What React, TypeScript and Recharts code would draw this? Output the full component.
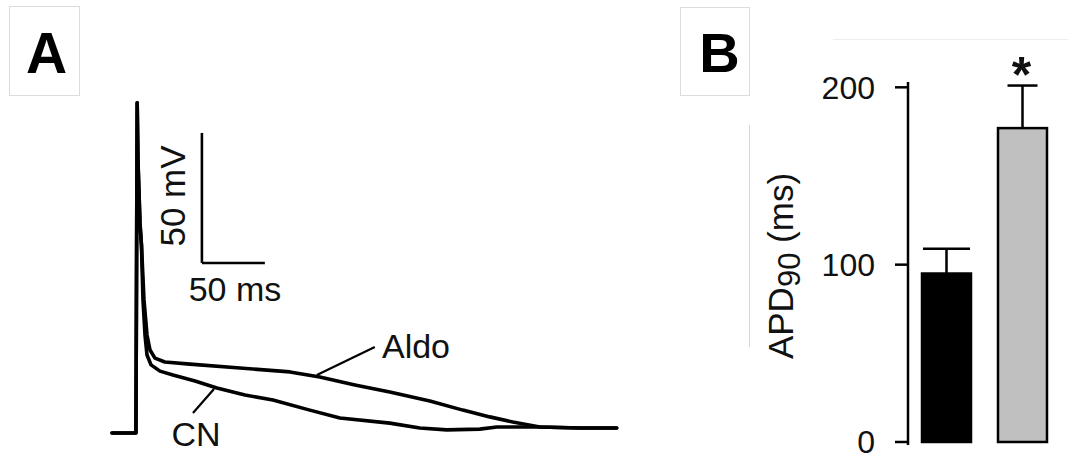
import React from 'react';
import { LineChart, Line, XAxis, YAxis, ReferenceLine, BarChart, Bar } from 'recharts';

// ---------- Panel A: action potential traces (time in ms, voltage in mV) ----------
const ALDO_T = [0, 18, 19, 20, 20.6, 22.2, 23.4, 25.4, 27.8, 30.2, 34.1, 42, 61.9, 101.6, 141.3, 165, 192.9, 220.6, 252.4, 278.6, 300, 318.3, 339.7, 371.4, 400.8];
const ALDO_V = [-80, -80, -80, 47, 25, 0.8, -7.7, -28.8, -42.3, -48.1, -51.2, -52.7, -53.5, -55, -56.5, -58.5, -61.5, -64.2, -67.7, -71.2, -73.8, -75.8, -77.7, -78.1, -78.1];
const CN_T = [0, 18, 19, 20, 20.6, 22.2, 23.4, 24.6, 26.2, 27.8, 31, 38.1, 48.4, 65.9, 83.3, 105.6, 127.8, 157.1, 181, 220.6, 244.4, 265.9, 292, 305.6, 339.7, 371.4, 400.8];
const CN_V = [-80, -80, -80, 47, 25, 0.8, -7.7, -28.8, -42.3, -50, -53.8, -56.2, -57.7, -60, -62.7, -65.4, -67.3, -71.2, -74.2, -76.2, -78.1, -78.8, -78.5, -77.7, -77.7, -78.1, -78.1];

// scale bar: 50 ms x 50 mV
const SCALE_MS = 50;
const SCALE_MV = 50;
const SCALE_ORIGIN_T = 71.4;
const SCALE_ORIGIN_V = -14.6;

// leader lines for the trace labels [t1, v1, t2, v2]
const CN_LEADER = [64.3, -72.3, 81, -63.1];
const ALDO_LEADER = [162.7, -57.7, 208.7, -46.9];

// ---------- Panel B: APD90 bars ----------
const GROUPS = ['CN', 'Aldo'];
const APD90 = [95, 177];
const SEM = [14, 24];
const SIGNIF = ['', '*'];
const Y_TICKS = [0, 100, 200];

const BAR_COLORS = ['#000000', '#c0c0c0'];
const CAP_WIDTHS = [47, 30];

const aldoData = ALDO_T.map((t, i) => ({ t, v: ALDO_V[i] }));
const cnData = CN_T.map((t, i) => ({ t, v: CN_V[i] }));
const barData = GROUPS.map((g, i) => ({ group: g, apd: APD90[i], sem: SEM[i], sig: SIGNIF[i] }));

const FONT = '"Liberation Sans", Arial, Helvetica, sans-serif';

const BarWithError = (props: any) => {
  const { x, y, width, height, payload } = props;
  const idx = GROUPS.indexOf(payload.group);
  const pxPerUnit = height / payload.apd;
  const cx = x + width / 2;
  const errTop = y - payload.sem * pxPerUnit;
  const cap = CAP_WIDTHS[idx];
  return (
    <g>
      <line x1={cx} x2={cx} y1={y} y2={errTop} stroke="#000" strokeWidth={2.5} />
      <line x1={cx - cap / 2} x2={cx + cap / 2} y1={errTop} y2={errTop} stroke="#000" strokeWidth={2.5} />
      <rect x={x} y={y} width={width} height={height} fill={BAR_COLORS[idx]} stroke="#000" strokeWidth={2.5} />
      {payload.sig ? (
        <text x={cx - 1} y={errTop + 6} textAnchor="middle" fontSize={50} fontWeight="bold" fontFamily={FONT} fill="#111">
          {payload.sig}
        </text>
      ) : null}
    </g>
  );
};

export default function App() {
  return (
    <div style={{ position: 'absolute', left: 0, top: 0, width: 1068, height: 468, background: '#fff', fontFamily: FONT, overflow: 'hidden' }}>
      {/* static annotations */}
      <svg width={1068} height={468} style={{ position: 'absolute', left: 0, top: 0 }}>
        <rect x={9.5} y={6.5} width={70} height={89} fill="#fff" stroke="#dcdcdc" strokeWidth={1} />
        <text x={46.5} y={73} textAnchor="middle" fontSize={57} fontWeight="bold" fontFamily={FONT} fill="#000">A</text>
        <rect x={680.5} y={7.5} width={69} height={88} fill="#fff" stroke="#dcdcdc" strokeWidth={1} />
        <text x={719.5} y={72} textAnchor="middle" fontSize={56} fontWeight="bold" fontFamily={FONT} fill="#000">B</text>
        <line x1={749.5} x2={749.5} y1={125} y2={347} stroke="#d6d6d6" strokeWidth={1} />
        <line x1={833} x2={1068} y1={39.5} y2={39.5} stroke="#eeeeee" strokeWidth={1} />

        <text transform="translate(185,196) rotate(-90)" textAnchor="middle" fontSize={35} fontFamily={FONT} fill="#111">50 mV</text>
        <text x={235} y={301} textAnchor="middle" fontSize={34} fontFamily={FONT} fill="#111">50 ms</text>
        <text x={196} y={446} textAnchor="middle" fontSize={34} fontFamily={FONT} fill="#111">CN</text>
        <text x={416} y={358} textAnchor="middle" fontSize={34} fontFamily={FONT} fill="#111">Aldo</text>

        <text transform="translate(793,266) rotate(-90)" textAnchor="middle" fontSize={35} fontFamily={FONT} fill="#111">
          APD<tspan fontSize={31} dy={7}>90</tspan><tspan dy={-7}> (ms)</tspan>
        </text>
      </svg>

      <div style={{ position: 'absolute', left: 102, top: 85 }}>
        <LineChart width={530} height={384} margin={{ top: 10, right: 10, bottom: 10, left: 10 }}>
          <XAxis type="number" dataKey="t" domain={[0, 405]} hide allowDuplicatedCategory={false} />
          <YAxis type="number" dataKey="v" domain={[-90, 50]} hide />
          <Line data={cnData} dataKey="v" type="linear" stroke="#000" strokeWidth={3.6} dot={false} isAnimationActive={false} strokeLinejoin="round" strokeLinecap="round" />
          <Line data={aldoData} dataKey="v" type="linear" stroke="#000" strokeWidth={3.6} dot={false} isAnimationActive={false} strokeLinejoin="round" strokeLinecap="round" />
          <ReferenceLine segment={[{ x: SCALE_ORIGIN_T, y: SCALE_ORIGIN_V + SCALE_MV }, { x: SCALE_ORIGIN_T, y: SCALE_ORIGIN_V }]} stroke="#000" strokeWidth={2.6} ifOverflow="visible" />
          <ReferenceLine segment={[{ x: SCALE_ORIGIN_T, y: SCALE_ORIGIN_V }, { x: SCALE_ORIGIN_T + SCALE_MS, y: SCALE_ORIGIN_V }]} stroke="#000" strokeWidth={2.6} ifOverflow="visible" />
          <ReferenceLine segment={[{ x: CN_LEADER[0], y: CN_LEADER[1] }, { x: CN_LEADER[2], y: CN_LEADER[3] }]} stroke="#000" strokeWidth={2.2} ifOverflow="visible" />
          <ReferenceLine segment={[{ x: ALDO_LEADER[0], y: ALDO_LEADER[1] }, { x: ALDO_LEADER[2], y: ALDO_LEADER[3] }]} stroke="#000" strokeWidth={2.2} ifOverflow="visible" />
        </LineChart>
      </div>

      <div style={{ position: 'absolute', left: 680, top: 0 }}>
        <BarChart width={388} height={468} data={barData} margin={{ top: 82, right: 8, bottom: 23, left: 158 }} barSize={49}>
          <XAxis dataKey="group" hide />
          <YAxis
            width={70}
            domain={[-1.7, 203]}
            ticks={Y_TICKS}
            type="number"
            axisLine={{ stroke: '#000', strokeWidth: 2.5 }}
            tickLine={{ stroke: '#000', strokeWidth: 2.5 }}
            tickSize={13}
            tickMargin={20}
            tick={{ fontSize: 32, fill: '#111', fontFamily: FONT }}
          />
          <Bar dataKey="apd" isAnimationActive={false} shape={<BarWithError />} />
        </BarChart>
      </div>
    </div>
  );
}
